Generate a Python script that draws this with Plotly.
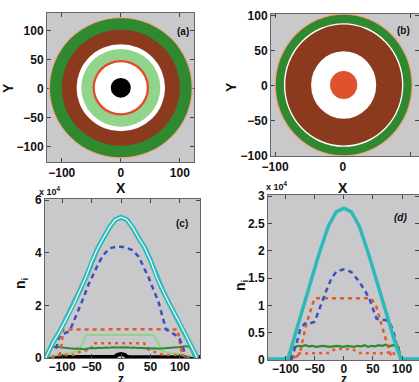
import plotly.graph_objects as go

# ---------------- data ----------------
# Panel (a): concentric rings, outer radius and colour (drawn outer -> inner)
ring_a_radius = [122, 120, 100, 75, 67, 48, 44, 17]
ring_a_color = ['#f2a58a', '#2f8a2f', '#8b3a1e', '#ffffff', '#92d48c', '#e8492a', '#ffffff', '#000000']
# Panel (b)
ring_b_radius = [102, 100, 88, 86, 48, 20]
ring_b_color = ['#f2a58a', '#2f8a2f', '#ffffff', '#8b3a1e', '#ffffff', '#e0522e']

# Panel (c): n_i (x 10^4) vs z
c_cyan_z = [-128, -125, -115, -103, -94, -81, -70, -60, -50, -40, -30, -20, -10, 0,
            10, 20, 30, 40, 50, 60, 70, 81, 97, 105, 115, 126, 129]
c_cyan_v = [0.0, 0.15, 0.6, 1.05, 1.44, 2.0, 2.55, 3.05, 3.65, 4.15, 4.55, 4.95, 5.25, 5.35,
            5.25, 4.95, 4.55, 4.2, 3.7, 3.1, 2.6, 2.1, 1.44, 1.1, 0.65, 0.15, 0.0]
c_blue_z = [-110, -105, -98, -90, -84, -76, -64, -55, -47, -38, -30, -19, -8, 0,
            8, 19, 30, 38, 47, 55, 64, 70, 76, 84, 92, 100, 106, 110]
c_blue_v = [0.35, 0.8, 0.9, 1.0, 1.19, 1.6, 2.27, 2.8, 3.2, 3.6, 3.92, 4.17, 4.23, 4.23,
            4.2, 4.1, 3.85, 3.5, 3.05, 2.6, 2.1, 1.6, 1.1, 0.98, 0.88, 0.7, 0.35, 0.0]
c_red1_z = [-118, -112, -104, -101, -98, -60, 0, 60, 96, 99, 102, 106, 112]
c_red1_v = [0.0, 0.1, 0.12, 0.5, 1.08, 1.09, 1.09, 1.09, 1.08, 0.7, 0.3, 0.1, 0.0]
c_red2_z = [-118, -112, -80, -72, -66, -52, -47, 0, 39, 45, 50, 62, 72, 104, 110, 116]
c_red2_v = [0.0, 0.1, 0.12, 0.2, 0.28, 0.3, 0.56, 0.56, 0.56, 0.35, 0.28, 0.2, 0.12, 0.11, 0.05, 0.0]
c_lgreen_z = [-128, -110, -85, -71, -60, 0, 56, 70, 85, 110, 128]
c_lgreen_v = [0.05, 0.1, 0.2, 0.25, 0.87, 0.87, 0.87, 0.25, 0.2, 0.1, 0.05]
c_dgreen_z = [-126, -121, -116, -110, -104, -98, -92, -86, -80, -74, -68, -62, -56, -50, -44,
              -38, -32, -26, -20, -14, -8, -2, 4, 10, 16, 22, 28, 34, 40, 46, 52, 58, 64,
              70, 76, 82, 88, 94, 100, 106, 112, 117, 121, 126]
c_dgreen_v = [0.0, 0.32, 0.42, 0.43, 0.41, 0.39, 0.38, 0.36, 0.35, 0.36, 0.34, 0.33, 0.36, 0.38,
              0.37, 0.39, 0.38, 0.40, 0.39, 0.41, 0.40, 0.41, 0.40, 0.41, 0.39, 0.40, 0.38, 0.39,
              0.37, 0.38, 0.36, 0.37, 0.35, 0.36, 0.38, 0.37, 0.39, 0.41, 0.42, 0.44, 0.45, 0.40,
              0.20, 0.0]
c_black_z = [-129, -15, -10, -6, 0, 6, 10, 15, 134]
c_black_v = [0.03, 0.03, 0.05, 0.12, 0.15, 0.12, 0.05, 0.03, 0.03]

# Panel (d)
d_cyan_z = [-130, -96, -88, -78, -61, -44, -27, -13, 0, 13, 27, 44, 61, 80, 90, 98, 129]
d_cyan_v = [0.02, 0.02, 0.3, 0.67, 1.28, 1.89, 2.44, 2.71, 2.78, 2.71, 2.44, 1.89, 1.28, 0.6, 0.25, 0.02, 0.02]
d_blue_z = [-90, -87, -81, -75, -67, -58, -50, -41, -35, -29.6, -21, -12.6, 0, 13, 24.5, 36,
            44.6, 50, 56, 65, 73, 79, 84.6, 90, 96]
d_blue_v = [0.0, 0.12, 0.3, 0.55, 0.67, 0.67, 0.7, 0.97, 1.13, 1.28, 1.5, 1.62, 1.66, 1.61, 1.46,
            1.28, 1.1, 0.92, 0.76, 0.73, 0.73, 0.67, 0.55, 0.3, 0.12]
d_red1_z = [-82, -75, -69, -64, -55, -50, 47, 56, 64, 70, 77, 82]
d_red1_v = [0.05, 0.13, 0.43, 0.67, 0.97, 1.13, 1.13, 0.97, 0.67, 0.43, 0.2, 0.05]
d_red2_z = [-86, -80, -60, -40, -25, -15, 0, 15, 25, 40, 60, 72, 80, 85, 88]
d_red2_v = [0.03, 0.12, 0.12, 0.12, 0.13, 0.2, 0.2, 0.2, 0.13, 0.12, 0.12, 0.13, 0.15, 0.15, 0.03]
d_green_z = [-93, -90, -84, -78, -72, -66, -60, -54, -48, -42, -36, -30, -24, -18, -12, -6, 0,
             6, 12, 18, 24, 30, 36, 42, 48, 54, 60, 66, 72, 78, 84, 90, 94, 97]
d_green_v = [0.0, 0.22, 0.24, 0.26, 0.25, 0.27, 0.25, 0.26, 0.24, 0.25, 0.26, 0.25, 0.24, 0.25,
             0.26, 0.25, 0.24, 0.26, 0.25, 0.24, 0.26, 0.25, 0.27, 0.24, 0.26, 0.25, 0.27, 0.26,
             0.28, 0.25, 0.27, 0.26, 0.24, 0.0]

CYAN = '#2fb8b8'
BLUE = '#3b4fbf'
RED = '#e35a2c'
LGREEN = '#8fd68a'
DGREEN = '#2e8a2e'

W, H = 419, 382
FONT = 'Liberation Sans, Arial, sans-serif'

fig = go.Figure()


def line(x, y, ax, color, width, dash='solid'):
    fig.add_trace(go.Scatter(x=x, y=y, mode='lines', xaxis='x' + ax, yaxis='y' + ax,
                             line=dict(color=color, width=width, dash=dash),
                             hoverinfo='skip', showlegend=False))


# panel (c)
line(c_black_z, c_black_v, '3', '#000000', 4)
line(c_lgreen_z, c_lgreen_v, '3', LGREEN, 2)
line(c_red2_z, c_red2_v, '3', RED, 2.5, '3px,4px')
line(c_dgreen_z, c_dgreen_v, '3', DGREEN, 2)
line(c_red1_z, c_red1_v, '3', RED, 2.5, '4px,4px')
line(c_blue_z, c_blue_v, '3', BLUE, 2.5, '5px,4px')
line(c_cyan_z, c_cyan_v, '3', CYAN, 5)
line(c_cyan_z, c_cyan_v, '3', '#f4ffff', 1.2)

# panel (d)
line(d_red2_z, d_red2_v, '4', RED, 2.5, '3px,4px')
line(d_green_z, d_green_v, '4', DGREEN, 2.2)
line(d_red1_z, d_red1_v, '4', RED, 2.5, '4px,4px')
line(d_blue_z, d_blue_v, '4', BLUE, 2.5, '5px,4px')
line(d_cyan_z, d_cyan_v, '4', CYAN, 3.5)

shapes = []
for r, col in zip(ring_a_radius, ring_a_color):
    shapes.append(dict(type='circle', xref='x', yref='y', x0=-r, x1=r, y0=-r + 1, y1=r + 1,
                       fillcolor=col, line=dict(width=0)))
for r, col in zip(ring_b_radius, ring_b_color):
    shapes.append(dict(type='circle', xref='x2', yref='y2', x0=-r + 1, x1=r + 1, y0=-r + 1, y1=r + 1,
                       fillcolor=col, line=dict(width=0)))


def px(x0, x1):
    return [x0 / W, x1 / W]


def py(top, bottom):
    return [1 - bottom / H, 1 - top / H]


axstyle = dict(showgrid=False, zeroline=False, showline=True, linecolor='#666', linewidth=1,
               mirror='ticks', ticks='inside', ticklen=4, tickcolor='#444', tickangle=0,
               automargin=False,
               tickfont=dict(family=FONT, size=12, color='#111', weight='bold'))

fig.update_layout(
    width=W, height=H, margin=dict(l=0, r=0, t=0, b=0),
    paper_bgcolor='white', plot_bgcolor='#c9c9cc', showlegend=False,
    shapes=shapes,
    xaxis=dict(domain=px(47, 194), range=[-125, 124], tickvals=[-100, 0, 100], anchor='y', **axstyle),
    yaxis=dict(domain=py(13, 162), range=[-127, 130], tickvals=[-100, -50, 0, 50, 100], anchor='x', **axstyle),
    xaxis2=dict(domain=px(271, 419), range=[-106, 112], tickvals=[-100, 0, 100], anchor='y2', **axstyle),
    yaxis2=dict(domain=py(14, 156), range=[-100, 102], tickvals=[-100, -50, 0, 50, 100], anchor='x2', **axstyle),
    xaxis3=dict(domain=px(45, 200), range=[-129, 134], tickvals=[-100, -50, 0, 50, 100], anchor='y3',
                ticklabelstandoff=-2, **axstyle),
    yaxis3=dict(domain=py(199, 358), range=[0, 6.04], tickvals=[0, 2, 4, 6], anchor='x3', **axstyle),
    xaxis4=dict(domain=px(268, 419), range=[-130, 129], tickvals=[-100, -50, 0, 50, 100], anchor='y4',
                ticklabelstandoff=-2, **axstyle),
    yaxis4=dict(domain=py(195, 360), range=[0, 3.02], tickvals=[0, 0.5, 1, 1.5, 2, 2.5, 3], anchor='x4', **axstyle),
)


def note(text, x, y, size, angle=0):
    fig.add_annotation(text=text, x=x / W, y=1 - y / H, xref='paper', yref='paper',
                       showarrow=False, textangle=angle, xanchor='center', yanchor='middle',
                       font=dict(family=FONT, size=size, color='#111', weight='bold'))


note('X', 121, 188, 14)
note('X', 343, 188, 14)
note('Y', 8, 88, 14, -90)
note('Y', 231, 87, 14, -90)
note('n<sub>i</sub>', 21, 283, 14, -90)
note('n<sub>i</sub>', 241, 285, 14, -90)
note('z', 121, 379, 12)
note('z', 344, 379, 12)
note('(a)', 183, 32, 10)
note('(b)', 403, 30, 10)
note('(c)', 182, 223, 10)
note('<i>(d)</i>', 400, 217, 10)
note('x 10<sup>4</sup>', 50, 191, 9)
note('x 10<sup>4</sup>', 277, 186, 9)

fig.write_html('out.html', config={'displayModeBar': False},
               post_script="document.body.style.margin='0';document.body.style.overflow='hidden';")
